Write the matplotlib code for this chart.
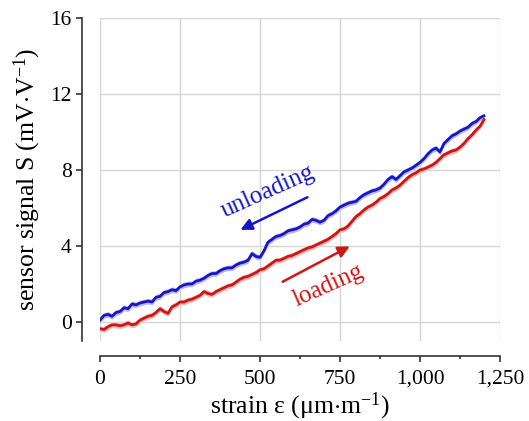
import numpy as np
import matplotlib
matplotlib.use('Agg')
import matplotlib.pyplot as plt
from matplotlib.ticker import MultipleLocator, StrMethodFormatter

plt.rcParams['font.family'] = 'Liberation Serif'
plt.rcParams['mathtext.fontset'] = 'custom'
plt.rcParams['mathtext.rm'] = 'Liberation Serif'
plt.rcParams['mathtext.it'] = 'Liberation Serif:italic'

# strain steps (um/m)
strain = np.arange(0, 1200.1, 12.5)

# unloading curve (blue)
unloading = [0.10, 0.35, 0.40, 0.30, 0.50, 0.55, 0.75, 0.70,
             0.95, 0.90, 1.00, 1.05, 1.10, 1.05, 1.30, 1.35,
             1.55, 1.60, 1.70, 1.65, 1.85, 1.95, 2.00, 2.00,
             2.15, 2.20, 2.30, 2.45, 2.55, 2.55, 2.70, 2.80,
             2.85, 2.85, 3.00, 3.10, 3.15, 3.25, 3.60, 3.45,
             3.40, 3.75, 4.20, 4.35, 4.50, 4.55, 4.65, 4.80,
             4.85, 4.90, 5.00, 5.15, 5.20, 5.40, 5.35, 5.25,
             5.35, 5.60, 5.70, 5.85, 6.05, 6.15, 6.25, 6.30,
             6.35, 6.55, 6.70, 6.80, 6.90, 6.95, 7.05, 7.25,
             7.50, 7.65, 7.50, 7.70, 7.90, 8.00, 8.10, 8.25,
             8.40, 8.60, 8.85, 9.05, 9.15, 8.95, 9.40, 9.60,
             9.80, 9.90, 10.05, 10.15, 10.25, 10.45, 10.55, 10.75,
             10.85]

# loading curve (red)
loading = [-0.35, -0.40, -0.25, -0.15, -0.15, -0.20, -0.15, -0.05,
           -0.15, -0.10, 0.10, 0.20, 0.30, 0.35, 0.50, 0.70,
           0.55, 0.45, 0.80, 0.90, 1.05, 1.05, 1.15, 1.20,
           1.30, 1.40, 1.60, 1.50, 1.45, 1.60, 1.70, 1.80,
           1.90, 1.95, 2.10, 2.25, 2.35, 2.40, 2.50, 2.60,
           2.75, 2.80, 2.95, 3.10, 3.25, 3.25, 3.35, 3.45,
           3.50, 3.60, 3.70, 3.80, 3.90, 3.95, 4.05, 4.15,
           4.25, 4.35, 4.50, 4.65, 4.85, 4.90, 5.05, 5.30,
           5.55, 5.70, 5.90, 6.05, 6.15, 6.30, 6.50, 6.60,
           6.75, 6.95, 7.05, 7.20, 7.40, 7.60, 7.75, 7.85,
           8.00, 8.05, 8.15, 8.25, 8.40, 8.60, 8.80, 8.90,
           9.00, 9.05, 9.20, 9.40, 9.65, 9.85, 10.10, 10.30,
           10.65]

band = 0.15
blue = '#1616c8'
red = '#d01515'

fig = plt.figure(figsize=(5.29, 4.21), dpi=100)
ax = fig.add_axes([100/529, 1 - 341/421, 400/529, 323/421])

for y, c in [(unloading, blue), (loading, red)]:
    y = np.array(y)
    ax.fill_between(strain, y - band, y + band, color=c, alpha=0.3, lw=0)
    ax.plot(strain, y, color=c, lw=2.0)

ax.set_xlim(0, 1250)
ax.set_ylim(-1, 16)
ax.xaxis.set_major_locator(MultipleLocator(250))
ax.xaxis.set_minor_locator(MultipleLocator(125))
ax.xaxis.set_major_formatter(StrMethodFormatter('{x:,.0f}'))
ax.set_yticks([0, 4, 8, 12, 16])

ax.grid(True, color='#d6d6d6', lw=1)
ax.xaxis.get_gridlines()[0].set_visible(False)

# detached spines (offsets in points: 18 px left, 15 px down)
for s in ['top', 'right']:
    ax.spines[s].set_visible(False)
ax.spines['left'].set_position(('outward', 13))
ax.spines['bottom'].set_position(('outward', 10.8))
for s in ['left', 'bottom']:
    ax.spines[s].set_color('#333333')
    ax.spines[s].set_linewidth(1.2)

ax.tick_params(which='major', direction='out', length=4, width=1.2, labelsize=15.5, colors='#333333', labelcolor='black')
ax.tick_params(which='minor', direction='out', length=2.5, width=1.2, colors='#333333')
ax.tick_params(axis='x', which='major', pad=6)

ax.set_xlabel(r'strain ε (μm$\cdot$m$^{\mathrm{-1}}$)', fontsize=18.5, labelpad=1)
ax.set_ylabel(r'sensor signal S (mV$\cdot$V$^{\mathrm{-1}}$)', fontsize=18.5, labelpad=5)

# annotations
ax.annotate('', xy=(431, 4.79), xytext=(656, 6.63),
            arrowprops=dict(arrowstyle='-|>', color=blue, lw=1.8, mutation_scale=17))
ax.text(525, 6.85, 'unloading', color=blue, fontsize=18, rotation=24,
        ha='center', va='center', rotation_mode='anchor')
ax.annotate('', xy=(788, 4.05), xytext=(563, 2.05),
            arrowprops=dict(arrowstyle='-|>', color=red, lw=1.8, mutation_scale=17))
ax.text(712, 1.9, 'loading', color=red, fontsize=18, rotation=24,
        ha='center', va='center', rotation_mode='anchor')

plt.savefig('out.png', dpi=100)
